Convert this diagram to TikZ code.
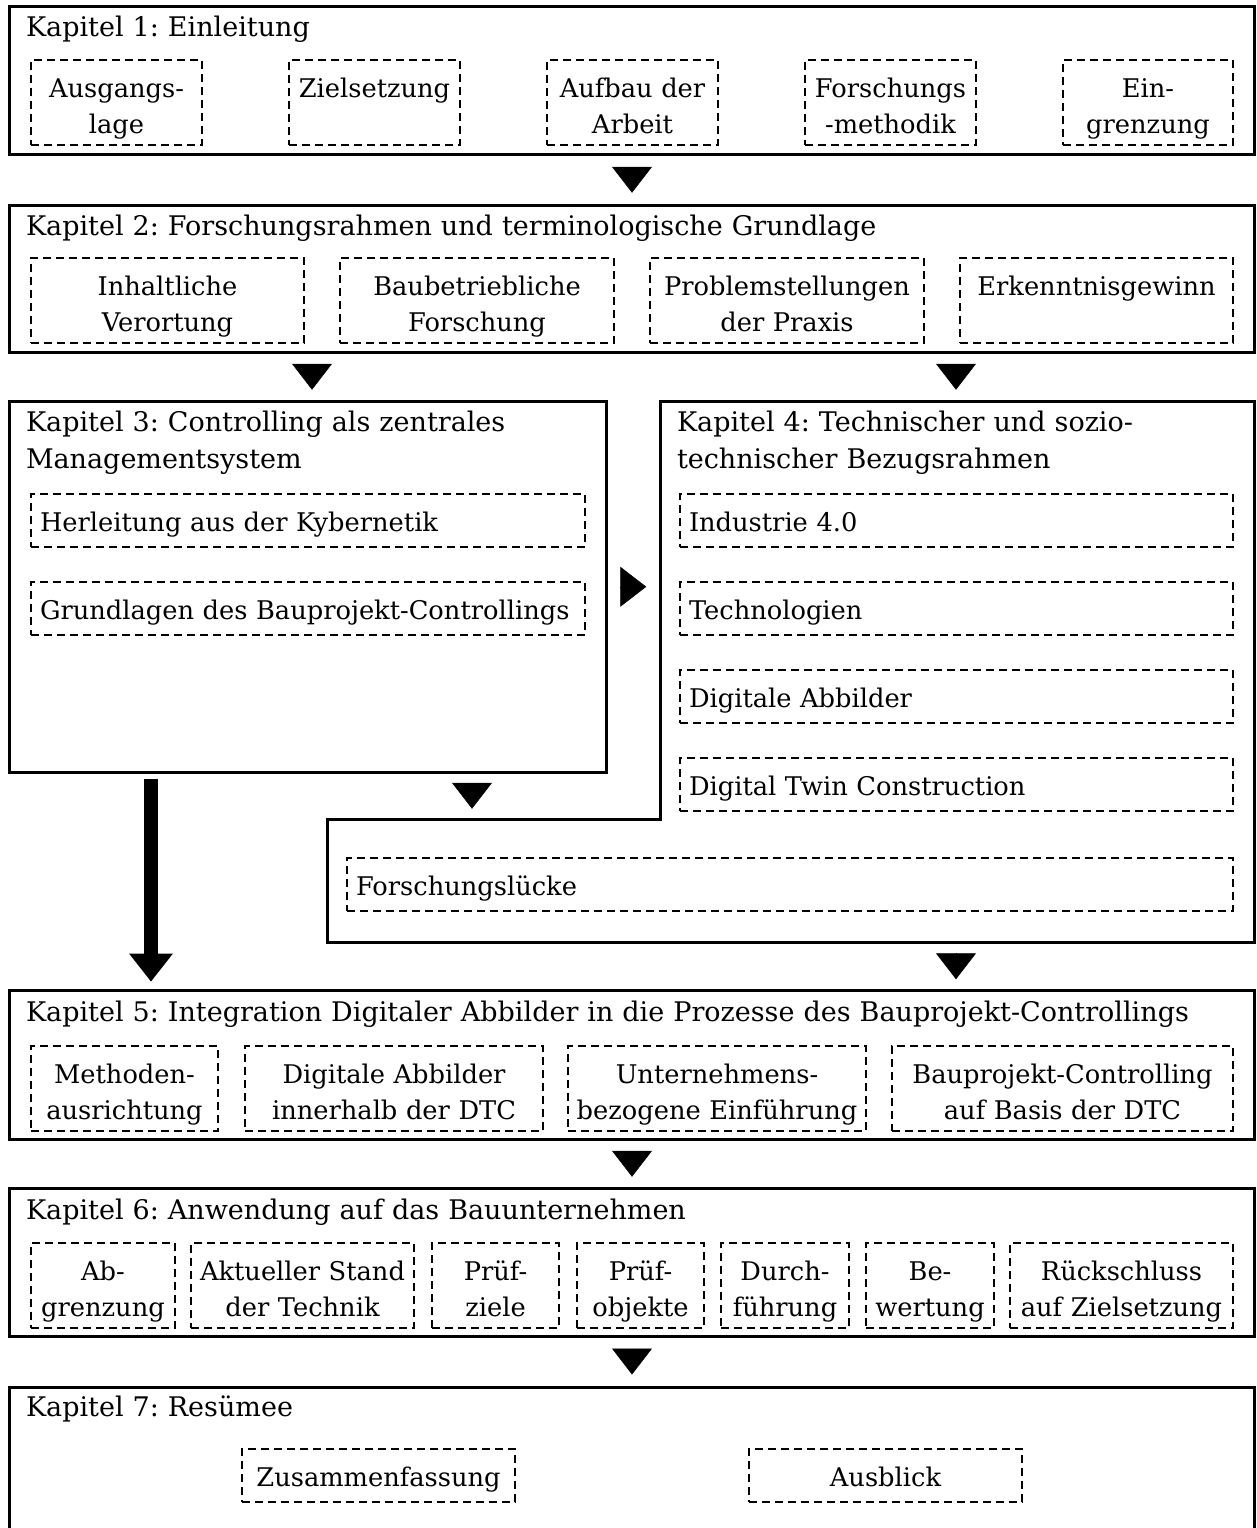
\documentclass[tikz,border=0pt]{standalone}
\usepackage{fontspec}
\setmainfont{DejaVu Serif}
\usetikzlibrary{arrows.meta,calc}
\hyphenpenalty=10000 \exhyphenpenalty=10000 \relax
\frenchspacing

\begin{document}
\begin{tikzpicture}[x=1pt, y=-1pt,
  every node/.style={font=\fontsize{25.7pt}{36pt}\selectfont},
  chap/.style={draw, line width=3pt, anchor=north west, inner sep=0pt, outer sep=0pt, minimum width=1245pt},
  frame/.style={draw, line width=3pt, line join=miter},
  ttl/.style={anchor=base west, inner sep=0pt, outer sep=0pt, text width=#1, align=left,
    font=\fontsize{27pt}{37pt}\selectfont},
  ttl/.default=1180pt,
  sub/.style={draw, line width=2pt, dash pattern=on 8pt off 5pt, anchor=north west,
    inner xsep=1pt, inner ysep=0pt, outer sep=0pt, align=center, text height=37pt},
  two/.style={minimum height=85pt, text depth=48pt},
  one/.style={minimum height=53pt, text depth=16pt},
  w/.style={minimum width=#1pt, text width=#1pt-2pt},
  lft/.style={align=left, inner xsep=9pt, minimum width=#1pt, text width=#1pt-18pt},
  tri/.style={line width=0.5pt, -{Triangle[length=26pt, width=40pt]}},
  fat/.style={line width=14pt, -{Triangle[length=28pt, width=44pt, line width=0pt]}}
]
\useasboundingbox (0,0) rectangle (1257,1528);
\clip (0,0) rectangle (1257,1528);

% ---------- chapter frames ----------
\node[chap, minimum height=148pt] (k1) at (9.5,6.5) {};
\node[chap, minimum height=147pt] (k2) at (9.5,205) {};
\node[chap, minimum width=597pt, minimum height=370.5pt] (k3) at (9.5,401.5) {};
\node[anchor=north west, inner sep=0pt, outer sep=0pt, minimum width=927.5pt, minimum height=540.5pt] (k4) at (327,401.5) {};
\coordinate (k4corner) at (660,819.5);
\coordinate (k4top) at (956,401.5);
\coordinate (k4step) at (472,819.5);
\draw[frame] (k4corner |- k4.north) -- (k4.north east) -- (k4.south east) -- (k4.south west)
  -- (k4.west |- k4corner) -- (k4corner) -- cycle;
\node[chap, minimum height=148.5pt] (k5) at (9.5,990.5) {};
\node[chap, minimum height=147.5pt] (k6) at (9.5,1188.5) {};
\node[chap, minimum height=200pt] (k7) at (9.5,1387) {};

% ---------- chapter titles ----------
\node[ttl] (t1) at (26,37) {Kapitel 1: Einleitung};
\node[ttl] (t2) at (26,235) {Kapitel 2: Forschungsrahmen und terminologische Grundlage};
\node[ttl=560pt] (t3) at (26,431) {Kapitel 3: Controlling als zentrales\\Managementsystem};
\node[ttl=560pt] (t4) at (677,431) {Kapitel 4: Technischer und sozio-\\technischer Bezugsrahmen};
\node[ttl] (t5) at (26,1021) {Kapitel 5: Integration Digitaler Abbilder in die Prozesse des Bauprojekt-Controllings};
\node[ttl] (t6) at (26,1219) {Kapitel 6: Anwendung auf das Bauunternehmen};
\node[ttl] (t7) at (26,1416) {Kapitel 7: Resümee};

% ---------- chapter 1 ----------
\node[sub, two, w=171] (a1) at (31,60) {Ausgangs-\\lage};
\node[sub, two, w=171] (a2) at (289,60) {Zielsetzung};
\node[sub, two, w=171] (a3) at (547,60) {Aufbau der\\Arbeit};
\node[sub, two, w=171] (a4) at (805,60) {Forschungs\\-methodik};
\node[sub, two, w=170] (a5) at (1063,60) {Ein-\\grenzung};

% ---------- chapter 2 ----------
\node[sub, two, w=273] (b1) at (31,258) {Inhaltliche\\Verortung};
\node[sub, two, w=274] (b2) at (340,258) {Baubetriebliche\\Forschung};
\node[sub, two, w=274] (b3) at (650,258) {Problemstellungen\\der Praxis};
\node[sub, two, w=273] (b4) at (960,258) {Erkenntnisgewinn};

% ---------- chapter 3 ----------
\node[sub, one, lft=554] (c1) at (31,494) {Herleitung aus der Kybernetik};
\node[sub, one, lft=554] (c2) at (31,582) {Grundlagen des Bauprojekt-Controllings};

% ---------- chapter 4 ----------
\node[sub, one, lft=553] (d1) at (680,494) {Industrie 4.0};
\node[sub, one, lft=553] (d2) at (680,582) {Technologien};
\node[sub, one, lft=553] (d3) at (680,670) {Digitale Abbilder};
\node[sub, one, lft=553] (d4) at (680,758) {Digital Twin Construction};
\node[sub, one, lft=886] (d5) at (347,858) {Forschungslücke};

% ---------- chapter 5 ----------
\node[sub, two, w=187] (e1) at (31,1046) {Methoden-\\ausrichtung};
\node[sub, two, w=298] (e2) at (245,1046) {Digitale Abbilder\\innerhalb der DTC};
\node[sub, two, w=298] (e3) at (568,1046) {Unternehmens-\\bezogene Einführung};
\node[sub, two, w=341] (e4) at (892,1046) {Bauprojekt-Controlling\\auf Basis der DTC};

% ---------- chapter 6 ----------
\node[sub, two, w=144] (f1) at (31,1243) {Ab-\\grenzung};
\node[sub, two, w=223] (f2) at (191,1243) {Aktueller Stand\\der Technik};
\node[sub, two, w=127] (f3) at (432,1243) {Prüf-\\ziele};
\node[sub, two, w=127] (f4) at (577,1243) {Prüf-\\objekte};
\node[sub, two, w=128] (f5) at (721,1243) {Durch-\\führung};
\node[sub, two, w=128] (f6) at (866,1243) {Be-\\wertung};
\node[sub, two, w=223] (f7) at (1010,1243) {Rückschluss\\auf Zielsetzung};

% ---------- chapter 7 ----------
\node[sub, one, w=273] (g1) at (242,1449) {Zusammenfassung};
\node[sub, one, w=273] (g2) at (749,1449) {Ausblick};

% ---------- flow between chapters ----------
\coordinate (colL) at (151,0);
\coordinate (colA) at (312,0);
\coordinate (m12) at ($(k1.south)!0.5!(k2.north)$);
\coordinate (m23) at ($(k2.south -| colA)!0.5!(k3.north -| colA)$);
\coordinate (m24) at ($(k2.south -| k4top)!0.5!(k4top)$);
\coordinate (m34) at ($(k3.east)!0.5!(k3.east -| k4corner)$);
\coordinate (m3s) at ($(k3.south -| k4step)!0.5!(k4step)$);
\coordinate (m45) at ($(k4.south -| k4top)!0.5!(k5.north -| k4top)$);
\coordinate (m56) at ($(k5.south)!0.5!(k6.north)$);
\coordinate (m67) at ($(k6.south)!0.5!(k7.north)$);

\foreach \m in {m12,m23,m24,m3s,m45,m56,m67}
  \draw[tri] ($(\m)+(0,-13)$) -- ($(\m)+(0,13)$);
\draw[tri] ($(m34)+(-13,0)$) -- ($(m34)+(13,0)$);
\draw[fat] ($(k3.south -| colL)+(0,7)$) -- ($(k5.north -| colL)+(0,-9)$);
\end{tikzpicture}
\end{document}
